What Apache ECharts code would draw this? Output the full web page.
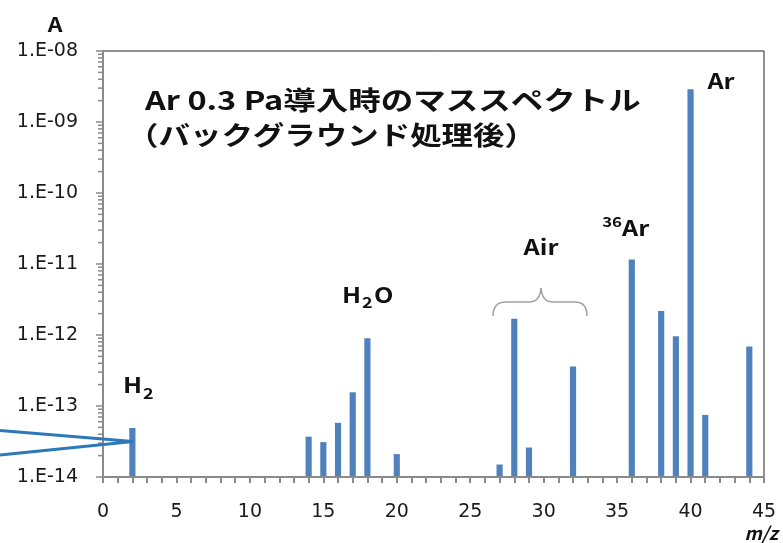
<!DOCTYPE html>
<html><head><meta charset="utf-8">
<script src="https://cdn.jsdelivr.net/npm/echarts@6/dist/echarts.min.js"></script>
<style>html,body{margin:0;padding:0;background:#fff}#c{width:783px;height:543px}</style>
</head><body><div id="c"></div>
<script>
// m/z values of the peaks and their ion currents (A)
const massNumbers = [2, 14, 15, 16, 17, 18, 20, 27, 28, 29, 32, 36, 38, 39, 40, 41, 44];
const currents = [4.9e-14, 3.7e-14, 3.1e-14, 5.8e-14, 1.56e-13, 9.0e-13, 2.1e-14, 1.5e-14, 1.7e-12, 2.6e-14, 3.6e-13, 1.16e-11, 2.18e-12, 9.6e-13, 2.9e-9, 7.5e-14, 6.9e-13];
const yTickLabels = ['1.E-14', '1.E-13', '1.E-12', '1.E-11', '1.E-10', '1.E-09', '1.E-08'];
const xTickLabels = ['0', '5', '10', '15', '20', '25', '30', '35', '40', '45'];
const yMin = 1e-14, yMax = 1e-8;
const minorMultipliers = [2, 3, 4, 5, 6, 7, 8, 9];
const decadeExponents = [-14, -13, -12, -11, -10, -9];

const barData = massNumbers.map((m, i) => [m, currents[i]]);
const minorTickData = [];
decadeExponents.forEach(e => minorMultipliers.forEach(k => minorTickData.push([0, k * Math.pow(10, e)])));

const CJK = '"Noto Sans CJK JP", "Noto Sans", sans-serif';
const AXIS_GREY = '#8a8a8a';

const chart = echarts.init(document.getElementById('c'), null, {renderer: 'canvas'});

function lbl(text, x, y, size, align, sx) {
  return {type: 'text', x: x, y: y, scaleX: sx || 1.2, z: 100,
    style: {text: text, font: 'bold ' + size + 'px ' + CJK, fill: '#111', textAlign: align || 'center', textVerticalAlign: 'middle'}};
}
const BRACE = {stroke: '#a0a0a0', lineWidth: 1.5, fill: 'none'};
function bz(x1, y1, cx, cy, x2, y2) {
  return {type: 'bezierCurve', z: 90, shape: {x1: x1, y1: y1, cpx1: cx, cpy1: cy, x2: x2, y2: y2}, style: BRACE};
}
function ln(x1, y1, x2, y2) {
  return {type: 'line', z: 90, shape: {x1: x1, y1: y1, x2: x2, y2: y2}, style: BRACE};
}

chart.setOption({
  animation: false,
  backgroundColor: '#fff',
  grid: {left: 103, right: 19, top: 51, bottom: 66, show: true, borderColor: '#222', borderWidth: 1, backgroundColor: 'transparent'},
  xAxis: {
    type: 'value', min: 0, max: 45, interval: 5,
    axisLine: {show: true, lineStyle: {color: AXIS_GREY, width: 2}},
    axisTick: {show: true, length: 6, lineStyle: {color: AXIS_GREY, width: 2}},
    minorTick: {show: true, splitNumber: 5, length: 6, lineStyle: {color: AXIS_GREY, width: 2}},
    splitLine: {show: false},
    axisLabel: {margin: 26, fontSize: 19, fontFamily: '"DejaVu Sans", sans-serif', color: '#1a1a1a',
      formatter: (v, i) => xTickLabels[i]}
  },
  yAxis: {
    type: 'log', logBase: 10, min: yMin, max: yMax, splitNumber: 6,
    axisLine: {show: true, lineStyle: {color: AXIS_GREY, width: 2}},
    axisTick: {show: true, length: 7, lineStyle: {color: AXIS_GREY, width: 1.5}},
    splitLine: {show: false},
    axisLabel: {margin: 25, fontSize: 19, fontFamily: '"DejaVu Sans", sans-serif', color: '#1a1a1a',
      formatter: (v, i) => yTickLabels[i]}
  },
  series: [
    {
      type: 'custom', name: 'ion current', data: barData, clip: true,
      renderItem: function (params, api) {
        const x = api.value(0), v = api.value(1);
        const top = api.coord([x, v]);
        const base = api.coord([x, yMin]);
        const w = api.size([1, 0])[0] * 0.42;
        return {type: 'rect', shape: {x: top[0] - w / 2, y: top[1], width: w, height: base[1] - top[1] - 1},
          style: {fill: '#4f81bd'}};
      }
    },
    {
      type: 'custom', name: 'minor ticks', data: minorTickData, silent: true,
      renderItem: function (params, api) {
        const p = api.coord([0, api.value(1)]);
        return {type: 'line', shape: {x1: p[0] - 5, y1: p[1], x2: p[0] - 1, y2: p[1]},
          style: {stroke: AXIS_GREY, lineWidth: 1.5}};
      }
    }
  ],
  graphic: [
    lbl('A', 55, 24, 20, 'center', 1.15),
    {type: 'text', x: 778, y: 533, z: 100, style: {text: 'm/z', font: 'italic bold 18px ' + CJK, fill: '#111', textAlign: 'right', textVerticalAlign: 'middle'}},
    lbl('Ar 0.3 Pa導入時のマススペクトル', 145, 100, 26, 'left', 1.25),
    lbl('（バックグラウンド処理後）', 127, 135, 26, 'left', 1.21),
    lbl('H', 142, 385, 21, 'right'),
    lbl('2', 143, 393, 15, 'left'),
    lbl('H', 361, 295, 21, 'right'),
    lbl('2', 362, 302, 15, 'left'),
    lbl('O', 374, 295, 21, 'left'),
    lbl('Air', 541, 247, 21, 'center'),
    lbl('36', 622, 222, 14, 'right'),
    lbl('Ar', 622, 228, 21, 'left'),
    lbl('Ar', 721, 81, 21, 'center'),
    bz(493, 316, 493, 302, 506, 302),
    ln(506, 302, 529, 302),
    bz(529, 302, 540, 302, 541, 288),
    bz(541, 288, 542, 302, 553, 302),
    ln(553, 302, 575, 302),
    bz(575, 302, 587, 302, 587, 316),
    {type: 'polyline', z: 90, shape: {points: [[0, 430.5], [133, 441.5], [0, 455]]},
      style: {fill: 'none', stroke: '#2b79b9', lineWidth: 3}}
  ]
});
</script>
</body></html>
